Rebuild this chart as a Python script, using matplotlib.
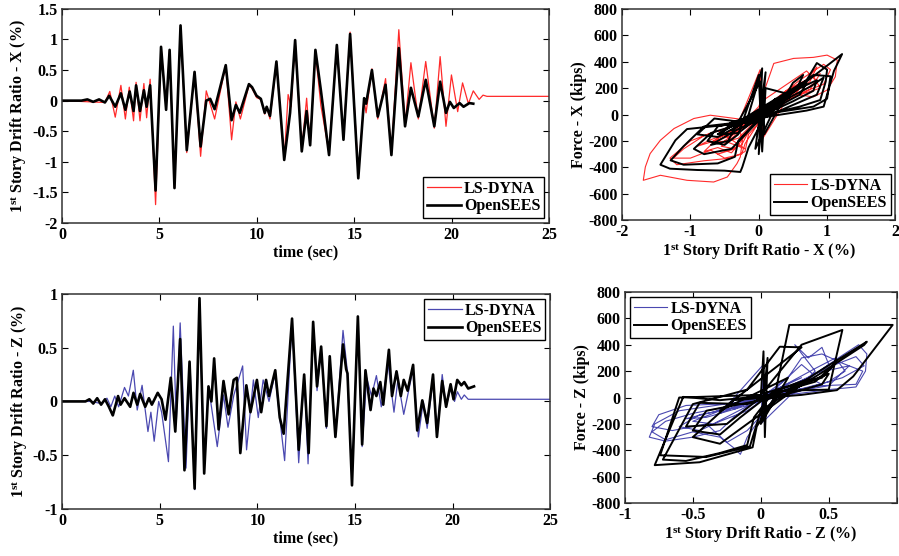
import numpy as np
import matplotlib.pyplot as plt

plt.rcParams['font.family'] = 'Liberation Serif'
plt.rcParams['font.weight'] = 'bold'
plt.rcParams['axes.labelweight'] = 'bold'
plt.rcParams['axes.unicode_minus'] = False
plt.rcParams['mathtext.fontset'] = 'custom'
plt.rcParams['mathtext.rm'] = 'Liberation Serif:bold'
plt.rcParams['mathtext.it'] = 'Liberation Serif:bold'
plt.rcParams['mathtext.bf'] = 'Liberation Serif:bold'

tx_ops = [0, 1.0, 1.3, 1.6, 1.9, 2.2, 2.42, 2.73, 3.02, 3.25, 3.47, 3.67, 3.8, 4.0, 4.2, 4.34, 4.52,
          4.8, 5.08, 5.34, 5.52, 5.77, 6.08, 6.4, 6.8, 7.11, 7.4, 7.6, 7.83, 8.4, 8.7, 8.92, 9.12,
          9.59, 9.75, 9.98, 10.2, 10.4, 10.5, 10.67, 11.0, 11.4, 11.7, 11.96, 12.3, 12.55, 12.73,
          13.0, 13.28, 13.7, 14.1, 14.44, 14.78, 15.2, 15.5, 15.6, 15.9, 16.2, 16.6, 16.9, 17.28,
          17.6, 17.9, 18.28, 18.66, 19.1, 19.4, 19.7, 19.9, 20.1, 20.4, 20.6, 20.9, 21.1]
dx_ops = [0, 0, 0.02, -0.02, 0.02, -0.03, 0.08, -0.10, 0.12, -0.15, 0.15, -0.17, 0.25, -0.17, 0.17, -0.10, 0.25,
          -1.47, 0.88, -0.15, 0.83, -1.43, 1.23, -0.81, 0.47, -0.75, 0.0, 0.03, -0.14, 0.58, -0.32, -0.07, -0.2,
          0.27, 0.22, 0.08, 0.03, -0.2, -0.1, -0.25, 0.64, -0.97, -0.2, 0.99, -0.83, -0.17, -0.73,
          0.83, 0.17, -0.89, 0.91, -0.64, 1.09, -1.27, 0.04, -0.05, 0.5, -0.26, 0.26, -0.89, 0.86,
          -0.42, 0.21, -0.26, 0.34, -0.42, 0.31, -0.2, -0.02, -0.12, -0.04, -0.1, -0.04, -0.05]

tx_ls = [0, 2.2, 2.45, 2.73, 3.02, 3.25, 3.45, 3.67, 3.8, 4.0, 4.2, 4.34, 4.52,
         4.8, 5.08, 5.34, 5.52, 5.77, 6.08, 6.4, 6.8, 7.11, 7.4, 7.83, 8.4, 8.7, 8.92, 9.15,
         9.59, 9.75, 9.98, 10.2, 10.4, 10.5, 10.67, 11.0, 11.4, 11.6, 11.75, 11.96, 12.3, 12.55, 12.73,
         13.0, 13.28, 13.7, 14.1, 14.44, 14.78, 15.2, 15.5, 15.6, 15.9, 16.2, 16.6, 16.9, 17.28,
         17.6, 17.9, 18.28, 18.66, 19.1, 19.4, 19.7, 19.98, 20.3, 20.55, 20.85, 21.1, 21.4, 21.6, 21.8, 25]
dx_ls = [0, -0.03, 0.15, -0.27, 0.25, -0.3, 0.22, -0.33, 0.3, -0.33, 0.28, -0.28, 0.35,
         -1.7, 0.88, -0.12, 0.83, -1.43, 1.2, -0.85, 0.47, -0.91, 0.16, -0.3, 0.58, -0.64, -0.02, -0.3,
         0.25, 0.2, 0.05, 0.02, -0.22, -0.1, -0.3, 0.62, -0.97, 0.1, -0.1, 0.98, -0.8, 0.04, -0.73,
         0.8, -0.08, -0.85, 0.9, -0.6, 1.12, -1.2, 0.0, -0.2, 0.52, -0.3, 0.36, -0.85, 1.16,
         -0.4, 0.62, -0.3, 0.64, -0.45, 0.72, -0.42, 0.42, -0.18, 0.29, -0.05, 0.16, 0.02, 0.09, 0.07, 0.07]

# drift history Z
tz_ops = [0, 1.2, 1.4, 1.6, 1.8, 2.0, 2.2, 2.4, 2.6, 2.87, 3.0, 3.2, 3.49, 3.66, 3.85, 4.0, 4.26, 4.45,
          4.6, 4.9, 5.1, 5.3, 5.57, 5.8, 6.05, 6.27, 6.53, 6.79, 7.04, 7.28, 7.5, 7.65, 7.79, 8.02,
          8.27, 8.53, 8.79, 8.95, 9.13, 9.44, 9.65, 9.98, 10.2, 10.45, 10.6, 10.92, 11.15, 11.35,
          11.78, 12.12, 12.4, 12.63, 12.86, 13.06, 13.27, 13.54, 13.71, 14.0, 14.39, 14.55, 14.62,
          14.85, 15.15, 15.37, 15.54, 15.8, 15.95, 16.1, 16.3, 16.45, 16.74, 16.9, 17.13, 17.35,
          17.5, 17.7, 17.98, 18.19, 18.45, 18.7, 19.0, 19.2, 19.47, 19.67, 19.9, 20.05, 20.24,
          20.45, 20.6, 20.8, 21.1]
dz_ops = [0, 0, 0.02, -0.02, 0.03, -0.03, 0.02, -0.05, -0.13, 0.05, -0.03, 0.03, -0.05, 0.08, -0.03, 0.07, -0.05, 0.03,
          -0.03, 0.08, 0.02, -0.17, 0.22, -0.28, 0.58, -0.64, 0.37, -0.81, 0.96, -0.67, 0.14, 0.0, 0.4, -0.26,
          0.19, -0.12, 0.2, 0.22, -0.48, 0.15, -0.1, 0.2, -0.1, 0.2, 0.05, 0.29, -0.15, -0.3,
          0.77, -0.45, 0.25, -0.48, 0.74, 0.14, 0.51, -0.23, 0.42, -0.33, 0.53, 0.3, 0.26,
          -0.78, 0.79, -0.4, 0.29, -0.08, 0.12, 0.05, 0.18, -0.03, 0.48, 0.05, 0.28, 0.05,
          0.2, 0.1, 0.34, -0.27, 0.01, -0.2, 0.25, -0.33, 0.19, -0.05, 0.16, 0.02, 0.2,
          0.15, 0.18, 0.12, 0.14]

tz_ls = [0, 1.5, 2.0, 2.3, 2.5, 2.7, 2.9, 3.2, 3.4, 3.65, 3.85, 4.1, 4.4, 4.55, 4.72, 4.95, 5.1,
         5.45, 5.7, 5.85, 6.05, 6.35, 6.55, 6.8, 7.04, 7.28, 7.5, 7.95, 8.27, 8.5, 8.8, 9.25, 9.45,
         9.8, 10.05, 10.3, 10.6, 10.9, 11.4, 11.78, 12.12, 12.4, 12.6, 12.86, 13.06, 13.27, 13.54,
         13.71, 14.0, 14.39, 14.6, 14.85, 15.15, 15.37, 15.6, 15.85, 16.1, 16.35, 16.7, 17.0, 17.2,
         17.5, 17.98, 18.25, 18.5, 18.7, 19.0, 19.2, 19.47, 19.67, 19.9, 20.1, 20.25, 20.45, 20.6,
         20.8, 25]
dz_ls = [0, 0, -0.02, 0.03, -0.05, 0.05, -0.05, 0.13, 0.05, 0.29, -0.08, 0.15, -0.28, -0.1, -0.37, 0.0, -0.1,
         -0.56, 0.7, -0.2, 0.73, -0.62, 0.36, -0.82, 0.85, -0.6, 0.14, -0.42, 0.06, -0.24, 0.06, 0.33, -0.45,
         0.2, -0.15, 0.2, 0.0, 0.25, -0.55, 0.75, -0.57, 0.25, -0.58, 0.72, 0.1, 0.5, -0.25,
         0.4, -0.33, 0.66, 0.3, -0.75, 0.77, -0.42, 0.22, 0.05, 0.24, -0.05, 0.35, -0.1, 0.2,
         -0.12, 0.3, -0.33, 0.0, -0.25, 0.2, -0.3, 0.25, -0.05, 0.12, 0.0, 0.09, 0.02, 0.06,
         0.02, 0.02]

# force - drift loops (drift %, force kips)
hx_ls = [(0, 0), (0.2, 60), (-0.15, -50), (0.3, 100), (-0.25, -90), (0.4, 150), (-0.35, -130),
         (0.02, 340), (0.06, -180), (0.5, 190), (-0.5, -200), (-0.2, -260),
         (-0.6, -120), (-1.0, -200), (-1.3, -330), (-1.2, -380), (-0.8, -350), (-0.4, -330), (-0.2, -280), (-0.15, -150),
         (0.3, 110), (0.7, 260), (0.85, 360), (0.75, 250), (0.4, 120), (-0.2, -40),
         (-0.71, -5), (-0.95, -30), (-1.24, -106), (-1.44, -195), (-1.59, -296), (-1.66, -397), (-1.69, -498),
         (-1.44, -460), (-1.05, -498), (-0.66, -511), (-0.46, -473), (-0.32, -372), (-0.27, -321), (-0.24, -195), (-0.29, -94),
         (0.0, 60), (0.22, 387), (0.51, 425), (0.8, 433), (1.0, 450), (1.15, 412), (1.12, 286), (1.0, 185), (0.8, 134),
         (0.61, 147), (0.41, 160), (0.1, 40),
         (-0.4, -90), (-0.8, -160), (-1.1, -260), (-1.25, -330), (-1.0, -330), (-0.7, -270), (-0.5, -330), (-0.25, -300), (-0.2, -220),
         (0.2, 100), (0.6, 260), (0.95, 380), (1.05, 340), (0.95, 230), (0.7, 180), (0.3, 100), (-0.2, -80),
         (-0.6, -180), (-0.8, -280), (-0.6, -250), (-0.4, -290), (-0.3, -230), (0.0, -20), (0.5, 210), (0.8, 290),
         (0.9, 200), (0.6, 150), (0.1, 30), (-0.5, -150), (-0.7, -210), (-0.45, -200), (-0.3, -180), (0.2, 80),
         (0.6, 200), (0.5, 130), (0.0, 0), (-0.3, -120), (0.2, 60), (-0.55, -240), (-0.35, -260), (-0.6, -300),
         (-0.25, -230), (0.1, 120), (0.7, 330), (0.85, 250), (0.3, 60), (-0.4, -160), (-0.9, -240), (-0.7, -190),
         (-0.2, -100), (0.4, 180), (0.9, 310), (0.75, 190), (0.0, 0)]

hx_ops = [(0, 0), (0.15, 80), (-0.1, -50), (0.25, 120), (-0.2, -90), (0.05, 350), (0.0, -300), (0.1, 320),
          (-0.05, -260), (0.3, 120), (-0.4, -120), (0.5, 180), (-0.6, -150), (0.7, 260), (0.85, 390), (1.0, 340),
          (0.98, 250), (0.9, 110), (0.6, 60), (0.1, 0), (-0.5, -80), (-1.05, -110), (-1.22, -195), (-1.44, -380),
          (-1.3, -410), (-0.9, -420), (-0.5, -425), (-0.27, -435), (-0.24, -397), (-0.15, -250), (0.1, 0),
          (0.5, 170), (0.9, 330), (1.22, 458), (1.1, 330), (0.95, 60), (0.7, 30), (0.2, -10),
          (-0.3, -60), (-0.8, -90), (-1.1, -240), (-1.29, -347), (-1.1, -380), (-0.6, -370), (-0.35, -320),
          (-0.3, -200), (-0.05, -60), (0.4, 140), (0.8, 300), (1.05, 290), (1.0, 120), (0.8, 60), (0.3, 20),
          (-0.2, -60), (-0.7, -140), (-0.95, -260), (-0.8, -300), (-0.4, -260), (-0.25, -180),
          (0.2, 60), (0.6, 200), (0.85, 260), (0.8, 180), (0.5, 100), (0.0, -20), (-0.6, -90), (-0.75, -200),
          (-0.5, -230), (-0.3, -150), (0.0, 300), (0.05, -280), (0.1, 200),
          (0.4, 160), (0.7, 240), (0.6, 150), (0.2, 40), (-0.4, -60), (-0.55, -150), (-0.3, -140), (0.2, 60),
          (0.45, 130), (0.1, 20), (-0.2, -60), (-0.65, -30), (-0.9, -150), (-0.6, -170), (-0.35, -100),
          (0.3, 90), (0.75, 210), (0.95, 280), (0.85, 150), (0.4, 50), (-0.3, -110), (-0.7, -230),
          (-0.45, -200), (0.02, 250), (0.08, -150), (0.5, 240), (0.65, 300), (0.55, 190), (0.0, 0)]

hz_ls = [(0, 0), (0.1, 60), (-0.1, -50), (0.2, 100), (-0.2, -90), (0.3, 150), (-0.3, -120), (0.02, 250), (0.0, -200),
         (0.4, 200), (0.25, 400), (0.35, 300), (0.45, 380), (0.5, 250), (0.3, 100), (-0.2, -60), (-0.5, -120),
         (-0.7, -180), (-0.8, -260), (-0.7, -320), (-0.5, -260), (-0.3, -300), (-0.2, -380), (-0.15, -430),
         (-0.1, -300), (0.1, 0), (0.4, 180), (0.6, 320), (0.72, 400), (0.78, 330), (0.77, 200), (0.7, 80),
         (0.5, 60), (0.2, 20), (-0.2, -40), (-0.6, -100), (-0.78, -200), (-0.82, -300), (-0.7, -330), (-0.5, -300),
         (-0.3, -250), (-0.2, -150), (0.0, 0), (0.2, 150), (0.3, 300), (0.45, 330), (0.6, 260), (0.75, 200),
         (0.7, 100), (0.45, 90), (0.2, 50), (-0.2, -80), (-0.45, -130), (-0.6, -220), (-0.45, -250), (-0.3, -180),
         (-0.1, -100), (0.15, 80), (0.4, 220), (0.55, 300), (0.62, 200), (0.5, 120), (0.2, 40),
         (-0.3, -100), (-0.5, -180), (-0.35, -200), (-0.2, -120), (0.1, 40), (0.35, 150), (0.45, 100),
         (0.2, 20), (-0.1, -40), (-0.55, -60), (-0.75, -130), (-0.8, -220), (-0.65, -250), (-0.4, -200),
         (-0.25, -340), (-0.1, -250), (0.2, 80), (0.5, 230), (0.7, 310), (0.76, 240), (0.6, 150), (0.3, 60),
         (-0.1, -60), (-0.4, -150), (-0.55, -160), (-0.35, -110), (0.1, 60), (0.3, 250), (0.38, 180),
         (0.65, 240), (0.5, 90), (0.0, 0)]

hz_ops = [(0, 0), (0.02, 350), (0.03, -300), (0.05, 300), (0.0, -200), (0.2, 150), (-0.3, -100), (0.3, 380),
          (0.14, 385), (-0.1, 60), (-0.5, -50), (-0.72, -470), (-0.55, -480), (-0.3, -420), (-0.1, -360),
          (-0.05, -150), (0.1, 50), (0.5, 60), (0.6, 512), (0.3, 400), (0.0, 20), (-0.6, 0), (-0.74, -437),
          (-0.4, -450), (-0.08, -370), (0.0, -100), (0.4, 180), (0.78, 423), (0.76, 398), (0.44, 183),
          (0.2, 30), (-0.3, -20), (-0.57, 5), (-0.78, -512), (-0.45, -490), (-0.06, -377), (-0.03, -220),
          (0.1, 0), (0.21, 550), (0.97, 550), (0.68, 160), (0.56, 56), (0.3, 20), (-0.2, -20), (-0.5, -300),
          (-0.3, -350), (-0.1, -200), (0.3, 100), (0.5, 180), (0.45, 100), (0.1, 0), (-0.4, -100),
          (-0.5, -250), (-0.3, -280), (-0.15, -150), (0.1, 50), (0.35, 140), (0.2, 60), (-0.1, -50),
          (-0.45, -40), (-0.55, -220), (-0.25, -200), (0.05, 40), (0.45, 150), (0.55, 260), (0.4, 120),
          (0.0, 0)]

red = '#ff2a2a'
blue = '#4a48b0'
fs = 11.5


def style(ax, xt, xl, yt, yl):
    ax.set_xticks(xt)
    ax.set_xticklabels(xl, fontweight='bold')
    ax.set_yticks(yt)
    ax.set_yticklabels(yl, fontweight='bold')
    ax.set_xlim(xt[0], xt[-1])
    ax.set_ylim(yt[0], yt[-1])
    ax.tick_params(direction='in', top=True, right=True, length=4, width=0.8,
                   labelsize=fs, pad=3)
    for s in ax.spines.values():
        s.set_linewidth(1.1)
        s.set_color('#333333')


def legend(ax, loc):
    lg = ax.legend(loc=loc, fancybox=False, edgecolor='black', framealpha=1, fontsize=fs,
                   handlelength=2.1, handletextpad=0.2, borderpad=0.25, labelspacing=0.1,
                   borderaxespad=0.3)
    lg.get_frame().set_linewidth(1.0)


fig = plt.figure(figsize=(8.99, 5.56), dpi=100)

# drift history X
ax1 = fig.add_axes([0.069, 0.599, 0.542, 0.385])
ax1.plot(tx_ls, dx_ls, color=red, lw=0.9, label='LS-DYNA')
ax1.plot(tx_ops, dx_ops, color='black', lw=1.9, label='OpenSEES')
style(ax1, [0, 5, 10, 15, 20, 25], ['0', '5', '10', '15', '20', '25'],
      [-2, -1.5, -1, -0.5, 0, 0.5, 1, 1.5], ['-2', '-1.5', '-1', '-0.5', '0', '0.5', '1', '1.5'])
ax1.set_xlabel('time (sec)', fontsize=fs, labelpad=1)
ax1.set_ylabel(r'1$^{\rm st}$ Story Drift Ratio - X (%)', fontsize=fs, labelpad=2)
legend(ax1, 'lower right')

# force - drift X
ax2 = fig.add_axes([0.692, 0.604, 0.304, 0.380])
d, f = np.array(hx_ls).T
ax2.plot(d, f, color=red, lw=0.8, label='LS-DYNA')
d, f = np.array(hx_ops).T
ax2.plot(d, f, color='black', lw=1.4, label='OpenSEES')
style(ax2, [-2, -1, 0, 1, 2], ['-2', '-1', '0', '1', '2'],
      [-800, -600, -400, -200, 0, 200, 400, 600, 800],
      ['-800', '-600', '-400', '-200', '0', '200', '400', '600', '800'])
ax2.set_xlabel(r'1$^{\rm st}$ Story Drift Ratio - X (%)', fontsize=fs, labelpad=1)
ax2.set_ylabel('Force - X (kips)', fontsize=fs, labelpad=1)
legend(ax2, 'lower right')

# drift history Z
ax3 = fig.add_axes([0.069, 0.0845, 0.543, 0.387])
ax3.plot(tz_ls, dz_ls, color=blue, lw=0.9, label='LS-DYNA')
ax3.plot(tz_ops, dz_ops, color='black', lw=1.9, label='OpenSEES')
style(ax3, [0, 5, 10, 15, 20, 25], ['0', '5', '10', '15', '20', '25'],
      [-1, -0.5, 0, 0.5, 1], ['-1', '-0.5', '0', '0.5', '1'])
ax3.set_xlabel('time (sec)', fontsize=fs, labelpad=1)
ax3.set_ylabel(r'1$^{\rm st}$ Story Drift Ratio - Z (%)', fontsize=fs, labelpad=2)
legend(ax3, 'upper right')

# force - drift Z
ax4 = fig.add_axes([0.695, 0.095, 0.3025, 0.380])
d, f = np.array(hz_ls).T
ax4.plot(d, f, color=blue, lw=0.8, label='LS-DYNA')
d, f = np.array(hz_ops).T
ax4.plot(d, f, color='black', lw=1.4, label='OpenSEES')
style(ax4, [-1, -0.5, 0, 0.5, 1], ['-1', '-0.5', '0', '0.5', ''],
      [-800, -600, -400, -200, 0, 200, 400, 600, 800],
      ['-800', '-600', '-400', '-200', '0', '200', '400', '600', '800'])
ax4.set_xlabel(r'1$^{\rm st}$ Story Drift Ratio - Z (%)', fontsize=fs, labelpad=1)
ax4.set_ylabel('Force - Z (kips)', fontsize=fs, labelpad=1)
legend(ax4, 'upper left')

fig.savefig('out.png', dpi=100, facecolor='white')
